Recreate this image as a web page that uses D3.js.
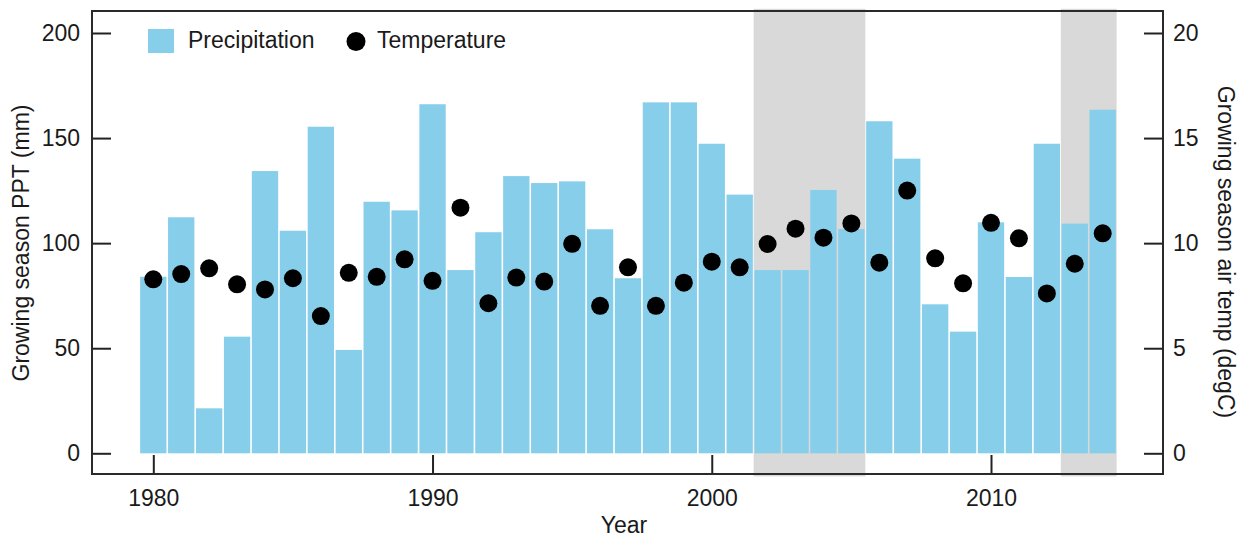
<!DOCTYPE html>
<html>
<head>
<meta charset="utf-8">
<script src="https://cdn.jsdelivr.net/npm/d3@7"></script>
<style>
  html, body { margin: 0; padding: 0; background: #fff; }
  svg { display: block; font-family: "Liberation Sans", Arial, sans-serif; }
  .tick text { font-size: 23px; fill: #1a1a1a; }
</style>
</head>
<body>
<svg id="chart" width="1239" height="537"></svg>
<script>
// Growing season precipitation (mm) and mean air temperature (degC), 1980-2014
const years = d3.range(1980, 2015);
const precipitation = [
  84.0, 112.3, 21.4, 55.5, 134.3, 105.9, 155.4, 49.2, 119.7, 115.6,
  166.1, 87.2, 105.2, 131.9, 128.6, 129.4, 106.6, 83.3, 167.0, 167.0,
  147.3, 123.1, 87.2, 87.2, 125.3, 106.7, 158.0, 140.2, 70.9, 57.9,
  109.9, 83.9, 147.3, 109.3, 163.5
];
const temperature = [
  8.28, 8.53, 8.80, 8.04, 7.80, 8.33, 6.53, 8.59, 8.40, 9.23,
  8.21, 11.69, 7.14, 8.36, 8.17, 9.97, 7.02, 8.85, 7.02, 8.12,
  9.12, 8.85, 9.96, 10.69, 10.26, 10.94, 9.07, 12.50, 9.28, 8.09,
  10.97, 10.23, 7.61, 9.02, 10.47
];
// highlighted periods (year bounds)
const shadedPeriods = [[2001.5, 2005.5], [2012.5, 2014.5]];
const yearTicks = [1980, 1990, 2000, 2010];
const ppTicks = [0, 50, 100, 150, 200];
const tempTicks = [0, 5, 10, 15, 20];

const svg = d3.select("#chart");
const frame = { left: 92, right: 1163, top: 11, bottom: 474 };

const x = d3.scaleLinear().domain([1980, 2010]).range([153.3, 991]);
const yP = d3.scaleLinear().domain([0, 200]).range([453.3, 33]);
const yT = d3.scaleLinear().domain([0, 20]).range([453.3, 33]);

const BAR = "#87CEEB", SHADE = "#D9D9D9", INK = "#1a1a1a";

// shaded periods span the full plotting height
svg.append("g").selectAll("rect").data(shadedPeriods).join("rect")
  .attr("x", d => x(d[0]))
  .attr("width", d => x(d[1]) - x(d[0]))
  .attr("y", yP(211.5))
  .attr("height", yP(-11) - yP(211.5))
  .attr("fill", SHADE);

// precipitation bars, one year wide with a hairline gap
const step = x(1981) - x(1980);
const gap = 1.6;
svg.append("g").selectAll("rect").data(years).join("rect")
  .attr("x", (d) => x(d - 0.5) + gap / 2)
  .attr("width", step - gap)
  .attr("y", (d, i) => yP(precipitation[i]))
  .attr("height", (d, i) => yP(0) - yP(precipitation[i]))
  .attr("fill", BAR);

// temperature points
svg.append("g").selectAll("circle").data(years).join("circle")
  .attr("cx", d => x(d))
  .attr("cy", (d, i) => yT(temperature[i]))
  .attr("r", 9)
  .attr("fill", "#000");

// axes with inward ticks
function styleAxis(g) {
  g.select(".domain").remove();
  g.selectAll(".tick line").attr("stroke", "#222").attr("stroke-width", 2);
}
svg.append("g")
  .attr("transform", `translate(${frame.left},0)`)
  .call(d3.axisLeft(yP).tickValues(ppTicks).tickSizeInner(-19).tickSizeOuter(0).tickPadding(12))
  .call(styleAxis);
svg.append("g")
  .attr("transform", `translate(${frame.right},0)`)
  .call(d3.axisRight(yT).tickValues(tempTicks).tickSizeInner(-19).tickSizeOuter(0).tickPadding(10))
  .call(styleAxis);
svg.append("g")
  .attr("transform", `translate(0,${frame.bottom})`)
  .call(d3.axisBottom(x).tickValues(yearTicks).tickFormat(d3.format("d")).tickSizeInner(-19).tickSizeOuter(0).tickPadding(16))
  .call(styleAxis);

// plot frame
svg.append("rect")
  .attr("x", frame.left).attr("y", frame.top)
  .attr("width", frame.right - frame.left)
  .attr("height", frame.bottom - frame.top)
  .attr("fill", "none").attr("stroke", "#2a2a2a").attr("stroke-width", 2);

// axis titles
svg.append("text")
  .attr("transform", "translate(21,243) rotate(-90)")
  .attr("dy", "0.35em")
  .attr("text-anchor", "middle")
  .attr("font-size", 23).attr("fill", INK)
  .text("Growing season PPT (mm)");
svg.append("text")
  .attr("transform", "translate(1226,252) rotate(90)")
  .attr("dy", "0.35em")
  .attr("text-anchor", "middle")
  .attr("font-size", 23).attr("fill", INK)
  .text("Growing season air temp (degC)");
svg.append("text")
  .attr("x", 624).attr("y", 533)
  .attr("text-anchor", "middle")
  .attr("font-size", 23).attr("fill", INK)
  .text("Year");

// legend
const legend = svg.append("g");
legend.append("rect").attr("x", 148).attr("y", 29).attr("width", 26).attr("height", 24).attr("fill", BAR);
legend.append("text").attr("x", 188).attr("y", 48).attr("font-size", 23).attr("fill", INK).text("Precipitation");
legend.append("circle").attr("cx", 356).attr("cy", 41.5).attr("r", 9.5).attr("fill", "#000");
legend.append("text").attr("x", 377).attr("y", 48).attr("font-size", 23).attr("fill", INK).text("Temperature");
</script>
</body>
</html>
